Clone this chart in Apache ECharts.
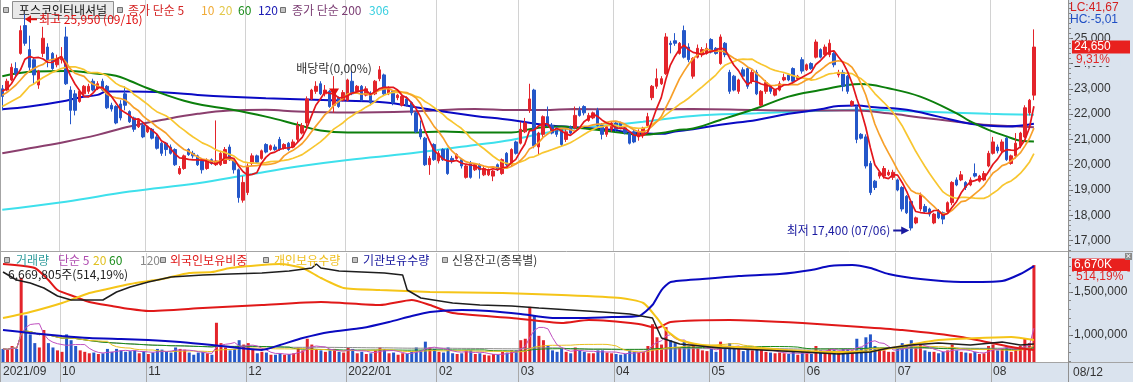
<!DOCTYPE html>
<html>
<head>
<meta charset="utf-8">
<script src="https://cdn.jsdelivr.net/npm/echarts@6.0.0/dist/echarts.min.js"></script>
<style>
html,body{margin:0;padding:0;background:#fff;}
#chart{width:1133px;height:382px;}
</style>
</head>
<body>
<div id="chart"></div>
<script>
// ================= DATA =================
const stockName = '포스코인터내셔널';
const lastDate = '08/12';
const opens = [
23000,22950,23350,23800,24400,25500,24550,24150,23150,24400,
24650,24400,23950,24150,25050,22950,22800,22500,22800,22900,
23300,23000,23300,23100,22350,22300,22400,22800,22100,21850,
21500,21550,21300,21400,21100,20850,20850,20700,20600,19650,
19850,20600,20450,20350,20150,19850,20200,20000,20000,20050,
20700,20150,19800,18600,18900,20050,20350,20250,20800,20600,
20700,21000,20650,20850,20700,21000,21250,21650,22600,22900,
23200,22800,22900,22350,22650,22550,22550,23300,22900,23100,
22750,22800,22800,23400,23550,22800,22900,22650,22350,22600,
22450,22050,21400,21050,20000,20800,20150,20600,20600,20250,
20250,20200,19500,20050,19800,20000,19600,19600,19550,20000,
19650,20450,20000,20900,20850,21300,22150,22950,20700,21200,
21900,21550,21450,21400,21000,21500,21450,22150,22300,21750,
21850,22150,21550,21200,21400,21650,21650,21450,21250,21300,
21100,21200,21550,22650,23100,23200,23600,24800,24900,24400,
25300,24650,23500,24250,24350,24400,24950,24600,24000,24800,
23650,23500,22900,23750,23800,23300,23650,22350,22900,23100,
22750,22950,23350,23550,23800,23400,24150,23750,24000,24250,
24550,24350,24350,24400,23550,23650,23500,22350,22300,21200,
21100,20050,19350,19550,19550,19600,19500,19400,19100,18750,
18550,17700,18250,18350,18250,17700,18150,18100,18150,18500,
19400,19400,19300,19200,19650,19350,19400,19950,20450,20700,
20550,21050,20050,20350,20750,21100,22050,22750];
const closes = [
22700,23300,23850,23600,25300,24800,23850,23550,23700,25000,
24150,23800,24200,24250,23200,22150,22150,22900,23100,23100,
22950,23200,22950,22250,22200,21650,21850,22350,21700,21400,
21750,21100,21500,21050,20650,20450,20600,20450,20000,19850,
20350,20400,20350,20000,19800,20150,20050,20150,20450,20600,
20200,19800,18700,19300,19950,20350,20100,20550,20500,20750,
20600,20600,20800,20600,20900,21550,21550,22600,22950,23100,
22800,22950,22300,22850,22300,22850,23350,22800,23100,22550,
23000,22450,23300,23750,22800,23000,22450,22750,22700,22350,
22050,21300,21100,20000,20250,20200,20450,20200,19650,20150,
20400,19950,19950,19500,20000,19800,19850,19800,19750,19800,
20200,20000,20600,20450,21400,21650,22600,20750,21250,21900,
21550,21250,21200,20800,21300,21250,21950,21950,22050,21950,
22050,21550,21200,21500,21650,21400,21450,21250,20850,20900,
21300,21450,21900,23100,23400,23400,25050,24750,24800,24800,
24250,24150,24200,24600,24550,24600,24450,24400,25050,24350,
22900,22950,23350,23500,23100,23650,22800,22900,23250,22900,
22950,23200,23450,23350,23300,23500,23700,23950,23800,24850,
24250,24650,24800,23950,23650,23100,22900,22500,21000,21050,
19950,18900,19100,19700,19850,19700,19700,19000,18250,18100,
17500,17900,18800,18150,18050,18050,17900,17850,18500,19300,
19200,19600,19100,19400,19550,19550,19650,20450,20900,20550,
20900,20200,20350,20850,21250,22250,22550,24650];
const lows = [
22150,22900,23300,23500,24350,24700,23700,23200,23000,24250,
23850,23750,23850,24000,23150,21600,21950,22450,22750,22800,
22900,22950,22900,22200,22100,21600,21750,22150,21650,21300,
21450,21050,21250,21000,20600,20350,20350,20400,19950,19600,
19800,20350,20250,19950,19650,19800,20000,19950,19950,20050,
20150,19650,18500,18500,18800,19950,20050,20200,20450,20550,
20550,20550,20600,20550,20650,20900,21200,21500,22550,22800,
22750,22700,22250,22050,22250,22500,22500,22750,22800,22500,
22700,22350,22750,23300,22750,22750,22350,22550,22300,22300,
21950,21250,21000,19950,19600,20150,20050,20150,19600,20050,
20200,19850,19450,19450,19750,19450,19550,19550,19350,19750,
19600,19950,19950,20400,20800,21250,22050,20650,20400,21100,
21500,21200,21100,20700,20900,21200,21400,21900,21950,21700,
21800,21500,21000,21100,21300,21300,21400,21200,20800,20850,
20950,21050,21500,22550,23000,23150,23550,24400,24700,24350,
24200,24050,23400,24200,24250,24350,24400,24350,23950,24250,
22800,22900,22800,23400,23000,23200,22750,22300,22800,22800,
22700,22900,23300,23300,23200,23350,23600,23700,23750,24200,
24200,24250,24250,23850,23450,22900,22800,22300,20850,21000,
19850,18800,19000,19450,19450,19550,19400,18950,18150,18050,
17400,17650,18150,18100,17950,17650,17850,17650,18100,18400,
19150,19350,19000,19150,19500,19300,19350,19900,20400,20450,
20450,20150,20000,20250,20650,21050,21950,22550];
const highs = [
23150,23400,24000,24050,25500,25950,25100,24250,23750,25450,
24800,24450,24350,24650,25450,23100,22950,22950,23150,23200,
23400,23300,23400,23150,22450,22350,22550,23100,22150,21900,
21800,21650,21550,21450,21200,20900,20900,20800,20650,19950,
20400,20650,20550,20400,20200,20250,20250,21750,20550,20700,
20800,20200,19850,19550,20050,20450,20400,20600,20850,20800,
20800,21100,20850,20900,21000,21700,21650,22700,23000,23300,
23300,23150,22950,23500,22700,22950,23400,23700,23150,23150,
23100,22900,23350,23900,23600,23100,22950,22800,22750,22700,
22500,22100,21750,21100,20350,20850,20550,20650,20650,20350,
20450,20250,20000,20150,20050,20050,19950,19850,19800,20050,
20250,20500,20650,20950,21700,21850,23200,23000,21300,21950,
22300,21650,21500,21450,21400,21550,22300,22300,22350,22050,
22100,22250,21650,21550,21700,21700,21700,21500,21300,21400,
21400,21500,22050,23150,23800,23500,25200,24900,25200,24850,
25500,24800,24250,24750,24650,24800,25000,24650,25150,24850,
23750,23550,23400,23850,23850,23750,23750,22950,23350,23150,
23000,23300,23600,23600,23850,23550,24250,24000,24050,24950,
24600,24750,24950,24450,23750,23750,23550,22550,22350,21250,
21200,20150,19400,19750,19950,19800,19800,19450,19150,18800,
18600,17950,18900,18450,18300,18100,18250,18150,18550,19350,
19500,19750,19350,19500,20050,19600,19750,20550,21100,20800,
21000,21100,20400,21250,21300,22350,22600,25350];
// volume in thousands of shares
const volumesK = [
900,850,1100,900,5800,3200,1900,1300,1000,2200,
1300,1000,800,700,1900,1500,1100,800,700,600,
650,550,600,900,700,900,800,700,750,800,
600,750,550,650,900,850,700,650,1000,900,
850,650,500,650,700,600,500,2700,1300,1000,
800,900,1500,1200,1300,900,600,700,650,500,
500,600,500,550,600,1000,800,1600,1200,900,
800,700,800,900,700,650,1000,900,600,700,
550,600,800,1000,900,600,650,500,600,550,
700,1000,800,1400,1000,900,700,650,1000,600,
550,600,800,800,550,600,500,450,550,500,
700,650,800,800,1500,1600,3800,3200,1800,1500,
1100,800,700,900,700,600,1000,800,700,600,
600,800,800,650,600,550,500,550,800,700,
650,700,1100,2600,1700,1200,2400,1500,1300,1000,
1400,1100,1200,1000,800,750,900,700,1400,900,
1300,1000,900,750,900,800,1000,900,700,650,
600,650,600,550,700,500,700,600,550,1100,
800,750,900,850,700,900,900,800,1600,1000,
1700,1900,1100,900,800,700,700,900,1300,1100,
1500,1000,1200,800,700,700,600,700,800,1200,
800,700,650,600,700,550,600,1100,1200,800,
900,1000,700,1000,1100,1600,1297.15,6669.805];
// first values of the moving averages (history before the window is not on the chart)
const ma5Head = [22900,23000,23200,23500];
const ma10Head = [22750,22850,23000,23150,23350,23550,23700,23800,23900];
const ma20Head = [22300,22400,22500,22600,22700,22900,23100,23200,23330,23450,23550,23650,23720,23800,23850,23870,23870,23820,23760];
// long moving averages read as [candle index, value]
const ma60Pts = [[0,23500],[7,23680],[14,23700],[21,23600],[25,23520],[28,23320],[32,23020],[36,22760],[40,22530],[44,22360],[50,22190],[58,21900],[65,21580],[70,21350],[76,21270],[90,21270],[97,21310],[104,21270],[112,21270],[116,21400],[119,21480],[123,21510],[127,21450],[134,21310],[138,21220],[141,21180],[145,21250],[149,21380],[151,21400],[158,21770],[166,22230],[173,22690],[180,22950],[186,23150],[189,23190],[195,23020],[202,22690],[210,22030],[213,21710],[217,21380],[221,21120],[224,20950],[227,20920]];
const ma120Pts = [[0,22190],[6,22300],[14,22530],[17,22660],[21,22760],[23,22890],[28,22890],[36,22850],[43,22760],[50,22690],[58,22630],[65,22590],[76,22530],[82,22490],[86,22430],[90,22300],[97,22100],[104,21930],[112,21770],[119,21580],[126,21480],[134,21380],[139,21250],[145,21220],[148,21310],[152,21400],[158,21580],[166,21770],[173,22010],[180,22190],[184,22320],[188,22340],[192,22270],[199,22170],[206,21900],[213,21620],[221,21510],[227,21620]];
const ma200Pts = [[0,20450],[6,20650],[14,20910],[21,21180],[28,21510],[36,21800],[43,22010],[50,22140],[58,22170],[65,22100],[76,22060],[90,22100],[104,22200],[112,22160],[119,22160],[126,22200],[134,22190],[152,22200],[166,22160],[180,22140],[188,22140],[195,22030],[202,21870],[210,21700],[217,21570],[224,21510],[227,21480]];
const ma306Pts = [[0,18220],[14,18540],[28,18940],[43,19270],[54,19600],[65,19930],[76,20190],[90,20450],[104,20780],[112,20980],[119,21240],[126,21440],[134,21570],[141,21700],[152,21930],[166,22030],[180,22130],[188,22170],[202,22100],[217,22010],[227,21970]];
// lower panel overlays, [candle index, value]
const foreignPctPts = [[0,9.8],[7,9.4],[10,8.2],[12,7.2],[16,6.5],[19,6.0],[24,5.6],[28,5.3],[32,5.1],[44,5.4],[57,5.7],[70,6.0],[83,5.7],[90,6.2],[94,5.7],[99,4.9],[112,4.4],[123,3.9],[129,4.2],[140,3.8],[144,3.4],[147,4.0],[160,4.2],[176,3.9],[189,3.5],[198,3.2],[211,2.5],[222,1.5],[227,1.2]];
const retailQtyPts = [[0,28800000],[6,30000000],[13,31800000],[19,33800000],[22,34400000],[28,35600000],[35,36600000],[41,37800000],[46,38000000],[50,38800000],[57,39400000],[61,39600000],[66,38800000],[70,36800000],[75,34800000],[83,34400000],[94,34000000],[110,33800000],[123,33400000],[136,32800000],[141,31800000],[144,28800000],[146,26400000],[149,24400000],[154,23400000],[162,23000000],[171,22400000],[180,22000000],[189,22000000],[193,22400000],[198,23200000],[206,24400000],[215,24800000],[222,25000000],[227,24400000]];
const instQtyPts = [[0,1058000],[6,1023000],[13,988000],[19,965000],[26,953000],[32,942000],[39,919000],[46,884000],[52,849000],[57,826000],[61,884000],[66,965000],[72,1035000],[79,1081000],[85,1151000],[90,1221000],[94,1267000],[101,1291000],[107,1279000],[114,1244000],[121,1198000],[127,1198000],[134,1209000],[140,1221000],[143,1349000],[145,1523000],[147,1616000],[154,1651000],[162,1686000],[171,1709000],[178,1756000],[182,1802000],[187,1814000],[191,1779000],[195,1709000],[202,1651000],[211,1616000],[220,1628000],[224,1709000],[227,1802000]];
const creditPts = [[0,3800000],[3,3640000],[6,3580000],[9,3480000],[12,3320000],[15,3240000],[22,3240000],[25,3400000],[28,3500000],[32,3600000],[37,3700000],[44,3740000],[50,3760000],[57,3780000],[63,3820000],[68,3880000],[69,3960000],[70,3880000],[74,3820000],[79,3800000],[84,3780000],[88,3740000],[89,3440000],[92,3280000],[99,3180000],[105,3140000],[112,3120000],[118,3080000],[125,3040000],[132,3000000],[138,2960000],[143,2880000],[145,2480000],[149,2360000],[158,2280000],[167,2240000],[176,2200000],[184,2160000],[191,2200000],[195,2280000],[200,2340000],[206,2380000],[213,2340000],[220,2400000],[224,2340000],[227,2360000]];
// date axis: label shown at the first candle of each month
const monthLabels = {0:'2021/09',13:'10',32:'11',54:'12',76:'2022/01',96:'02',114:'03',135:'04',156:'05',177:'06',197:'07',218:'08'};
const priceTicks = [17000,18000,19000,20000,21000,22000,23000,24000,25000];
const instTicks = [1000000,1500000];
const highMark = {idx:5, date:'09/16'};
const lowMark = {idx:200, date:'07/06'};
const exDivMark = {idx:73, text:'배당락(0,00%)'};
const slotCount = 235;   // candles + empty room on the right

// ================= BUILD =================
const N = closes.length;
const RED = '#e3242b', BLUE = '#2457c9', AXBG = '#dae3ee';
const KR = '"Noto Sans CJK KR", "Noto Sans", sans-serif';
const NUM = '"Liberation Sans", Arial, sans-serif';
const fmt = v => String(Math.round(v)).replace(/\B(?=(\d{3})+(?!\d))/g, ',');
const dec2 = v => v.toFixed(2).replace('.', ',');
function sma(src, n, head) {
  const out = []; let s = 0;
  for (let i = 0; i < src.length; i++) {
    s += src[i]; if (i >= n) s -= src[i - n];
    if (i < n - 1) out.push(head ? head[i] : s / (i + 1)); else out.push(s / n);
  }
  return out;
}
const slots = Array.from({length: slotCount}, (_, i) => String(i));
const candleData = opens.map((o, i) => [o, closes[i], lows[i], highs[i]]);
const volumes = volumesK.map(v => v * 1000);
const ma5 = sma(closes, 5, ma5Head), ma10 = sma(closes, 10, ma10Head), ma20 = sma(closes, 20, ma20Head);
const vma5 = sma(volumes, 5), vma20 = sma(volumes, 20), vma60 = sma(volumes, 60), vma120 = sma(volumes, 120);
const maxHigh = Math.max(...highs), minLow = Math.min(...lows);
const lastClose = closes[N - 1], prevClose = closes[N - 2];
const isMonth = i => monthLabels[i] !== undefined;
const isBoundary = i => i > 0 && isMonth(i);
const priceMinor = []; for (let v = 16600; v <= 26500; v += 200) priceMinor.push(v);
const instMinor = []; for (let v = 700000; v <= 1900000; v += 100000) instMinor.push(v);

const ARROW_L = 'path://M0,4L6,0L6,3L12,3L12,5L6,5L6,8Z';
const ARROW_R = 'path://M12,4L6,0L6,3L0,3L0,5L6,5L6,8Z';
const TRI_D = 'path://M0,0L10,0L5,8Z';

function line(data, color, width, xi, yi, smooth, z) {
  return {type: 'line', xAxisIndex: xi, yAxisIndex: yi, data: data, symbol: 'none', showSymbol: false,
    smooth: smooth || false, lineStyle: {color: color, width: width}, itemStyle: {color: color},
    z: z || 4, silent: true, animation: false};
}
function priceAxis(min, max, ticks, minor, gi) {
  return [
    {type: 'value', gridIndex: gi, position: 'right', min: min, max: max,
      axisLine: {show: true, lineStyle: {color: '#8c8c8c'}},
      axisTick: {show: true, customValues: ticks, length: 5, lineStyle: {color: '#666'}},
      axisLabel: {show: true, customValues: ticks, formatter: v => fmt(v), margin: 6, color: '#333', fontSize: 12, fontFamily: NUM},
      splitLine: {show: false}},
    {type: 'value', gridIndex: gi, position: 'right', min: min, max: max,
      axisLine: {show: false},
      axisTick: {show: true, customValues: minor, length: 3, lineStyle: {color: '#888'}},
      axisLabel: {show: false}, splitLine: {show: false}}
  ];
}

const chart = echarts.init(document.getElementById('chart'), null, {renderer: 'canvas'});
const option = {
  animation: false,
  backgroundColor: '#ffffff',
  grid: [
    {left: 0, top: 0, width: 1068, height: 251},
    {left: 0, top: 253, width: 1068, height: 109}
  ],
  xAxis: [
    {type: 'category', gridIndex: 0, data: slots, boundaryGap: true,
      axisLine: {show: false}, axisTick: {show: false}, axisLabel: {show: false},
      splitLine: {show: true, interval: (i) => isBoundary(i), lineStyle: {color: '#d2d2d2', width: 1}}},
    {type: 'category', gridIndex: 1, data: slots, boundaryGap: true,
      axisLine: {show: true, lineStyle: {color: '#a0a0a0'}},
      axisTick: {show: true, interval: (i) => isMonth(i), length: 20, lineStyle: {color: '#a8a8a8'}},
      axisLabel: {show: true, interval: (i) => isMonth(i), formatter: (v) => monthLabels[Number(v)] || '',
        align: 'left', margin: 4, color: '#333', fontSize: 12, fontFamily: NUM},
      splitLine: {show: true, interval: (i) => isBoundary(i), lineStyle: {color: '#d2d2d2', width: 1}}}
  ],
  yAxis: [
    ...priceAxis(16590, 26510, priceTicks, priceMinor, 0),           // 0,1
    ...priceAxis(686000, 1953500, instTicks, instMinor, 1),          // 2,3
    {type: 'value', gridIndex: 1, show: false, min: 0, max: 10.9},                 // 4 foreign %
    {type: 'value', gridIndex: 1, show: false, min: 20000000, max: 41800000},      // 5 retail
    {type: 'value', gridIndex: 1, show: false, min: 2000000, max: 4180000},        // 6 credit
    {type: 'value', gridIndex: 1, show: false, min: 0, max: 7500000}               // 7 volume
  ],
  series: [
    line(ma306Pts, '#3ee0ec', 2, 0, 0, 0.4, 3),
    line(ma200Pts, '#8b3f6e', 2, 0, 0, 0.4, 3),
    line(ma120Pts, '#0a0ac4', 2, 0, 0, 0.4, 3),
    line(ma60Pts, '#0c7f0c', 2, 0, 0, 0.4, 3),
    {type: 'candlestick', xAxisIndex: 0, yAxisIndex: 0, data: candleData, barWidth: 3, z: 4,
      itemStyle: {color: RED, color0: BLUE, borderColor: RED, borderColor0: BLUE, borderWidth: 1},
      markPoint: {
        silent: true, animation: false,
        data: [
          {coord: [highMark.idx, maxHigh], symbol: ARROW_L, symbolSize: [12, 8], symbolOffset: [6, 5],
            itemStyle: {color: '#e01010'},
            label: {show: true, position: 'right', distance: 2, color: '#e01010', fontSize: 12, fontFamily: KR,
              formatter: '최고 ' + fmt(maxHigh) + ' (' + highMark.date + ')'}},
          {coord: [lowMark.idx, minLow], symbol: ARROW_R, symbolSize: [16, 8], symbolOffset: [-10, 0],
            itemStyle: {color: '#1a1aa0'},
            label: {show: true, position: 'left', distance: 3, color: '#1a1aa0', fontSize: 12, fontFamily: KR,
              formatter: '최저 ' + fmt(minLow) + ' (' + lowMark.date + ')'}},
          {coord: [exDivMark.idx, closes[exDivMark.idx]], symbol: TRI_D, symbolSize: [10, 8],
            itemStyle: {color: '#e01010'},
            label: {show: true, position: 'top', distance: 14, color: '#333', fontSize: 12, fontFamily: KR,
              formatter: exDivMark.text}}
        ]
      }},
    line(ma20, '#f8c630', 1.7, 0, 0, false, 5),
    line(ma10, '#f7a02a', 1.7, 0, 0, false, 5),
    line(ma5, '#e3161c', 1.7, 0, 0, false, 6),
    // lower panel
    {type: 'bar', xAxisIndex: 1, yAxisIndex: 7, data: volumes, barWidth: 3, z: 2, silent: true,
      itemStyle: {color: (p) => closes[p.dataIndex] >= opens[p.dataIndex] ? RED : BLUE}},
    line(vma120, '#8c8c8c', 1, 1, 7, false, 3),
    line(vma60, '#1a8c1a', 1, 1, 7, false, 3),
    line(vma20, '#e8c020', 1, 1, 7, false, 3),
    line(vma5, '#c050c0', 1, 1, 7, false, 3),
    line(foreignPctPts, '#e01818', 2, 1, 4, 0.2, 5),
    line(retailQtyPts, '#f5c518', 2, 1, 5, 0.2, 5),
    line(instQtyPts, '#0a0ac0', 2, 1, 2, 0.2, 5),
    line(creditPts, '#1e1e1e', 1.5, 1, 6, false, 6)
  ]
};
chart.setOption(option);

// ---------- decorations / annotations ----------
const yPrice = chart.convertToPixel({yAxisIndex: 0}, lastClose);
const yVol = chart.convertToPixel({yAxisIndex: 7}, volumes[N - 1]);
const pct = (lastClose / prevClose - 1) * 100;
const volRatio = volumes[N - 1] / volumes[N - 2] * 100;
const lc = (lastClose / minLow - 1) * 100;
const hc = (lastClose / maxHigh - 1) * 100;

function txt(x, y, text, color, font, extra, z) {
  return {type: 'text', x: x, y: y, z: z === undefined ? 30 : z, silent: true,
    style: Object.assign({text: text, fill: color, font: font, align: 'left', verticalAlign: 'middle',
      textAlign: 'left', textVerticalAlign: 'middle'}, extra || {})};
}
function sq(x, y) {
  return {type: 'rect', z: 20, silent: true, shape: {x: x + 0.5, y: y + 0.5, width: 5, height: 5},
    style: {fill: '#c4c4c4', stroke: '#707070', lineWidth: 1}};
}
function hline(x1, x2, y, c) { return {type: 'line', z: 15, silent: true, shape: {x1: x1, y1: y, x2: x2, y2: y}, style: {stroke: c, lineWidth: 1}}; }
function vline(x, y1, y2, c) { return {type: 'line', z: 15, silent: true, shape: {x1: x, y1: y1, x2: x, y2: y2}, style: {stroke: c, lineWidth: 1}}; }

const F12 = '12px ' + KR;
const N12 = '12px ' + NUM;
const els = [
  {type: 'rect', z: -10, silent: true, shape: {x: 1068, y: 0, width: 65, height: 382}, style: {fill: AXBG}},
  {type: 'rect', z: -10, silent: true, shape: {x: 0, y: 362, width: 1133, height: 20}, style: {fill: AXBG}},
  hline(0, 1133, 251.5, '#a4a4a4'),
  hline(0, 1133, 362.5, '#a4a4a4'),
  vline(0.5, 0, 382, '#a4a4a4'),
  vline(1068.5, 0, 382, '#909090'),
  // top legend
  sq(3, 7),
  {type: 'rect', z: 1, silent: true, shape: {x: 12.5, y: 1.5, width: 101, height: 17}, style: {fill: '#e9e9e9', stroke: '#8f8f8f', lineWidth: 1}},
  txt(63, 10.5, stockName, '#111', F12, {align: 'center', textAlign: 'center'}, 2),
  sq(117, 7),
  txt(128, 10.5, '종가 단순 5', '#d42424', F12),
  txt(201, 10.5, '10', '#f0aa36', F12),
  txt(219, 10.5, '20', '#e2c84a', F12),
  txt(238, 10.5, '60', '#1a8c1a', F12),
  txt(258, 10.5, '120', '#1a1ab4', F12),
  sq(280, 7),
  txt(292, 10.5, '종가 단순 200', '#7c3e74', F12),
  txt(369, 10.5, '306', '#38cfe0', F12),
  // lower legend
  sq(4, 257),
  txt(16, 260.5, '거래량', '#2f9c9c', F12),
  txt(58, 260.5, '단순 5', '#b04cb0', F12),
  txt(93, 260.5, '20', '#e0c020', F12),
  txt(109, 260.5, '60', '#1a8c1a', F12),
  txt(140, 260.5, '120', '#888888', F12),
  sq(160, 257),
  txt(170, 260.5, '외국인보유비중', '#e01818', F12),
  sq(263, 257),
  txt(274, 260.5, '개인보유수량', '#f0c020', F12),
  sq(352, 257),
  txt(363, 260.5, '기관보유수량', '#14149c', F12),
  sq(442, 257),
  txt(452, 260.5, '신용잔고(종목별)', '#333333', F12),
  txt(8, 274, fmt(volumes[N - 1]) + '주(' + dec2(volRatio) + '%)', '#222', F12),
  // right-side readouts
  txt(1070, 7.5, 'LC:' + dec2(lc), '#d42020', N12),
  txt(1070, 19.5, 'HC:' + dec2(hc), '#1f4fc4', N12),
  {type: 'rect', z: 30, silent: true, shape: {x: 1072, y: Math.round(yPrice) - 6.5, width: 58, height: 13}, style: {fill: '#e8201e'}},
  txt(1074, Math.round(yPrice), fmt(lastClose), '#ffffff', N12, {}, 31),
  txt(1074, Math.round(yPrice) + 13, dec2(pct) + '%', '#e02828', N12, {backgroundColor: AXBG, padding: [0, 10, 0, 2]}, 31),
  {type: 'rect', z: 30, silent: true, shape: {x: 1072, y: Math.round(yVol) - 6.5, width: 58, height: 13}, style: {fill: '#e8201e'}},
  txt(1074, Math.round(yVol), fmt(volumes[N - 1] / 1000) + 'K', '#ffffff', N12, {}, 31),
  txt(1074, Math.round(yVol) + 12, dec2(volRatio) + '%', '#e02828', N12, {backgroundColor: AXBG, padding: [0, 4, 0, 2]}, 31),
  {type: 'rect', z: 30, silent: true, shape: {x: 1125, y: 253, width: 7, height: 7}, style: {fill: '#8a8a8a'}},
  txt(1128.5, 256.5, '×', '#ffffff', '9px ' + NUM, {align: 'center', textAlign: 'center'}, 31),
  txt(1073, 372.5, lastDate, '#333', N12)
];
chart.setOption({graphic: {elements: els}});
</script>
</body>
</html>
